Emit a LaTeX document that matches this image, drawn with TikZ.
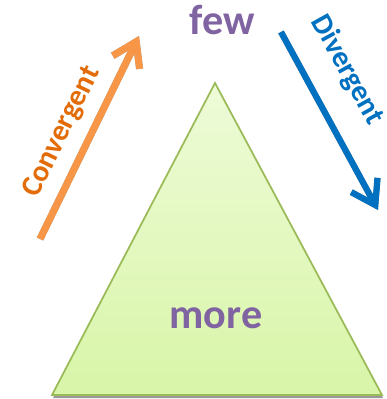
\documentclass[tikz,border=0pt]{standalone}
\usepackage{fontspec}
\setmainfont{Carlito}
\definecolor{FewPurple}{HTML}{8064A2}
\definecolor{ConvOrange}{HTML}{F79646}
\definecolor{ConvText}{HTML}{E36C09}
\definecolor{DivBlue}{HTML}{0070C0}
\definecolor{TriFillTop}{HTML}{EEFBD8}
\definecolor{TriFillBot}{HTML}{D8F5A8}
\definecolor{TriEdge}{HTML}{9BBB59}
\usetikzlibrary{arrows.meta}

\begin{document}
\begin{tikzpicture}[x=0.02cm,y=-0.02cm,
  word/.style={font=\bfseries\fontsize{24}{28}\selectfont,text=FewPurple},
  side/.style={font=\bfseries\fontsize{17}{20}\selectfont,inner sep=0pt},
  flow/.style={line width=#1,-{Straight Barb[length=13pt,width=17pt]}},
  drop/.style={draw=black!40,shift={(2,3)}}]
\useasboundingbox (0,0) rectangle (386,399);
% triangle with its shadow
\fill[black!40] (53,398) -- (383,398) -- (216,86) -- cycle;
\draw[TriEdge,line width=1pt,top color=TriFillTop,bottom color=TriFillBot]
  (52,395) coordinate (tl) -- (382,395) coordinate (tr) -- (215,83) coordinate (apex) -- cycle;
% labels
\node[word] (few) at (222,20) {few};
\node[word] (more) at (216,318) {more};
% arrows, ends named
\coordinate (ct) at (40,239);
\coordinate (ch) at (139,36);
\coordinate (dt) at (281,32);
\coordinate (dh) at (378,210);
\draw[flow=4pt,drop] (ct) -- (ch);
\draw[flow=4pt,ConvOrange] (ct) -- (ch);
\draw[flow=3.5pt,drop] (dt) -- (dh);
\draw[flow=3.5pt,DivBlue] (dt) -- (dh);
\node[side,text=ConvText,rotate=64] (conv) at (62,132) {Convergent};
\node[side,text=DivBlue,rotate=-61] (div) at (347,70) {Divergent};
\end{tikzpicture}
\end{document}
